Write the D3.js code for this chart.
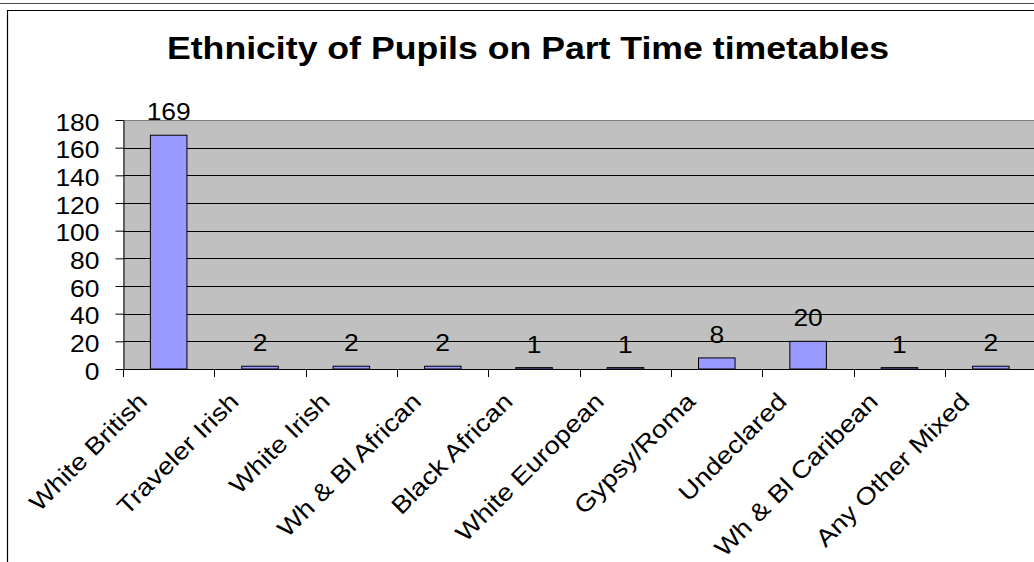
<!DOCTYPE html>
<html>
<head>
<meta charset="utf-8">
<script src="https://cdn.jsdelivr.net/npm/d3@7"></script>
<style>
  html, body { margin: 0; padding: 0; background: #fff; }
  svg { display: block; }
  text { font-family: "Liberation Sans", Arial, sans-serif; fill: #000; }
</style>
</head>
<body>
<svg id="chart" width="1034" height="562"></svg>
<script>
// Pupils on part-time timetables, by ethnicity
const categories = ["White British", "Traveler Irish", "White Irish", "Wh & Bl African",
  "Black African", "White European", "Gypsy/Roma", "Undeclared", "Wh & Bl Caribean", "Any Other Mixed"];
const pupils = [169, 2, 2, 2, 1, 1, 8, 20, 1, 2];
const yTicks = [0, 20, 40, 60, 80, 100, 120, 140, 160, 180];
const title = "Ethnicity of Pupils on Part Time timetables";

const svg = d3.select("#chart");
const W = 1034, H = 562;
const stretch = 1.15;   // wide glyph rendering of the original chart font

// chart frame
svg.append("line").attr("x1", 0).attr("x2", W).attr("y1", 3.5).attr("y2", 3.5)
  .attr("stroke", "#444").attr("stroke-width", 1);
svg.append("path").attr("d", `M${W},10.5H7.5V${H}`)
  .attr("fill", "none").attr("stroke", "#000").attr("stroke-width", 1.2);

// plot area
const plot = { left: 123, top: 120, bottom: 369, step: 91.35 };
const x = d3.scaleBand().domain(categories)
  .range([plot.left, plot.left + plot.step * categories.length])
  .paddingInner(0.6).paddingOuter(0.3);
const y = d3.scaleLinear().domain([0, 180]).range([plot.bottom, plot.top]);

svg.append("rect")
  .attr("x", plot.left).attr("y", plot.top)
  .attr("width", W - plot.left + 5).attr("height", plot.bottom - plot.top)
  .attr("fill", "#c0c0c0");

// gridlines
svg.append("g").selectAll("line").data(yTicks.filter(d => d > 0)).join("line")
  .attr("x1", plot.left).attr("x2", W)
  .attr("y1", d => Math.round(y(d)) + 0.5).attr("y2", d => Math.round(y(d)) + 0.5)
  .attr("stroke", d => d === 180 ? "#808080" : "#000").attr("stroke-width", 1);

// bars
svg.append("g").selectAll("rect").data(pupils).join("rect")
  .attr("x", (d, i) => x(categories[i]))
  .attr("y", d => y(d))
  .attr("width", x.bandwidth())
  .attr("height", d => y(0) - y(d))
  .attr("fill", "#9999ff").attr("stroke", "#000").attr("stroke-width", 1);

// value labels
svg.append("g").selectAll("text").data(pupils).join("text")
  .attr("transform", (d, i) => `translate(${x(categories[i]) + x.bandwidth() / 2},${y(d) - 15}) scale(${stretch},1)`)
  .attr("text-anchor", "middle").attr("font-size", 23)
  .text(d => d);

// y axis
const yAxis = d3.axisLeft(y).tickValues(yTicks).tickSize(8).tickSizeOuter(0);
const gy = svg.append("g").attr("transform", `translate(${plot.left + 0.5},0)`).call(yAxis);
gy.select(".domain").attr("stroke", "#000");
gy.selectAll(".tick line").attr("stroke", "#000");
gy.selectAll(".tick text")
  .attr("font-size", 23).attr("font-family", "Liberation Sans, Arial, sans-serif")
  .attr("fill", "#000").attr("x", 0).attr("dy", 0)
  .attr("transform", `translate(-24,10) scale(${stretch},1)`);

// x axis with ticks on category boundaries
const xBounds = d3.range(categories.length + 1).map(i => plot.left + plot.step * i);
svg.append("line").attr("x1", plot.left).attr("x2", W)
  .attr("y1", plot.bottom + 0.5).attr("y2", plot.bottom + 0.5).attr("stroke", "#000");
svg.append("g").selectAll("line").data(xBounds).join("line")
  .attr("x1", d => Math.round(d) + 0.5).attr("x2", d => Math.round(d) + 0.5)
  .attr("y1", plot.bottom).attr("y2", plot.bottom + 8).attr("stroke", "#000");

// category labels, rotated
svg.append("g").selectAll("text").data(categories).join("text")
  .attr("transform", d => `translate(${x(d) + x.bandwidth() / 2 - 20},${plot.bottom + 34}) rotate(-45) scale(${stretch},1)`)
  .attr("text-anchor", "end").attr("font-size", 24)
  .text(d => d);

// title
svg.append("text")
  .attr("transform", `translate(528,59) scale(${stretch},1)`)
  .attr("text-anchor", "middle").attr("font-size", 31).attr("font-weight", "bold")
  .text(title);
</script>
</body>
</html>
